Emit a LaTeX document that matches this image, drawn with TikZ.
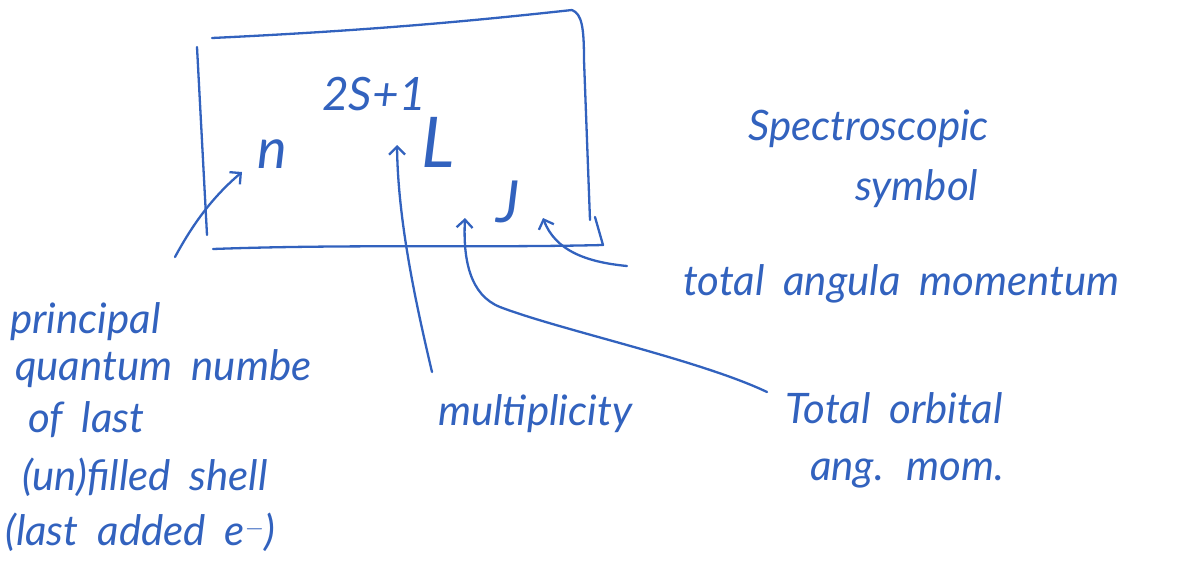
\documentclass[tikz,border=0pt]{standalone}
\usepackage{fontspec}
\setmainfont{Lato}
\usetikzlibrary{arrows.meta}
\definecolor{ink}{RGB}{50,98,190}
\newcommand\handfont{\itshape\fontsize{42}{48}\selectfont\spaceskip=0.45em plus 0.1em\relax}
\begin{document}
\begin{tikzpicture}[x=1pt,y=-1pt,
  pen/.style={draw=ink, line width=2.3pt, line cap=round, line join=round},
  arr/.style={pen, -{Straight Barb[length=8pt,width=16pt,line width=2.3pt]}},
  hand/.style={text=ink, inner sep=0pt, anchor=base west, font=\handfont},
  sym/.style={text=ink, inner sep=0pt, anchor=base}]
\useasboundingbox (0,0) rectangle (1187,571);

% frame around the term symbol
\draw[pen] (212,38) .. controls (380,30) and (480,20) .. (572,10);
\draw[pen] (572,10) .. controls (582,14) and (584,28) .. (584,60) -- (590,220);
\draw[pen] (197,47) -- (207,235);
\draw[pen] (213,249) .. controls (350,244) and (480,248) .. (603,245) -- (595,217);

% parts of the symbol
\node[sym, font=\itshape\fontsize{46}{46}\selectfont] (mult) at (374,110) {2S+1};
\node[sym, font=\itshape\fontsize{56}{56}\selectfont] (n) at (272,168) {n};
\node[sym, font=\itshape\fontsize{70}{70}\selectfont] (L) at (438,167) {L};
\node[sym, font=\itshape\fontsize{58}{58}\selectfont] (J) at (508,222) {J};

% labels
\node[hand] (spec) at (748,140) {Spectroscopic};
\node[hand] (symb) at (855,200) {symbol};
\node[hand] (tot) at (683,295) {total angula momentum};
\node[hand] (p1) at (10,333) {principal};
\node[hand] (p2) at (15,380) {quantum numbe};
\node[hand] (p3) at (28,432) {of last};
\node[hand] (p4) at (22,490) {(un)filled shell};
\node[hand] (p5) at (5,545) {(last added e$^-$)};
\node[hand] (mul) at (438,425) {multiplicity};
\node[hand] (orb1) at (785,423) {Total orbital};
\node[hand] (orb2) at (810,480) {ang. mom.};

% free ends of the pointers
\coordinate (nFrom) at (175,257);
\coordinate (mFrom) at (432,372);
\coordinate (oFrom) at (767,392);
\coordinate (jFrom) at (627,266);

% pointers
\draw[arr] (nFrom) .. controls (195,220) and (215,195) .. ([shift={(-30,4)}]n.base);
\draw[arr] (mFrom) .. controls (415,300) and (398,220) .. ([shift={(-41,-22)}]L.base);
\draw[arr] (oFrom) .. controls (700,360) and (560,330) .. (500,307)
  .. controls (470,295) and (463,260) .. ([shift={(-43,-4)}]J.base);
\draw[arr] (jFrom) .. controls (585,262) and (555,250) .. ([shift={(35,-4)}]J.base);
\end{tikzpicture}
\end{document}
